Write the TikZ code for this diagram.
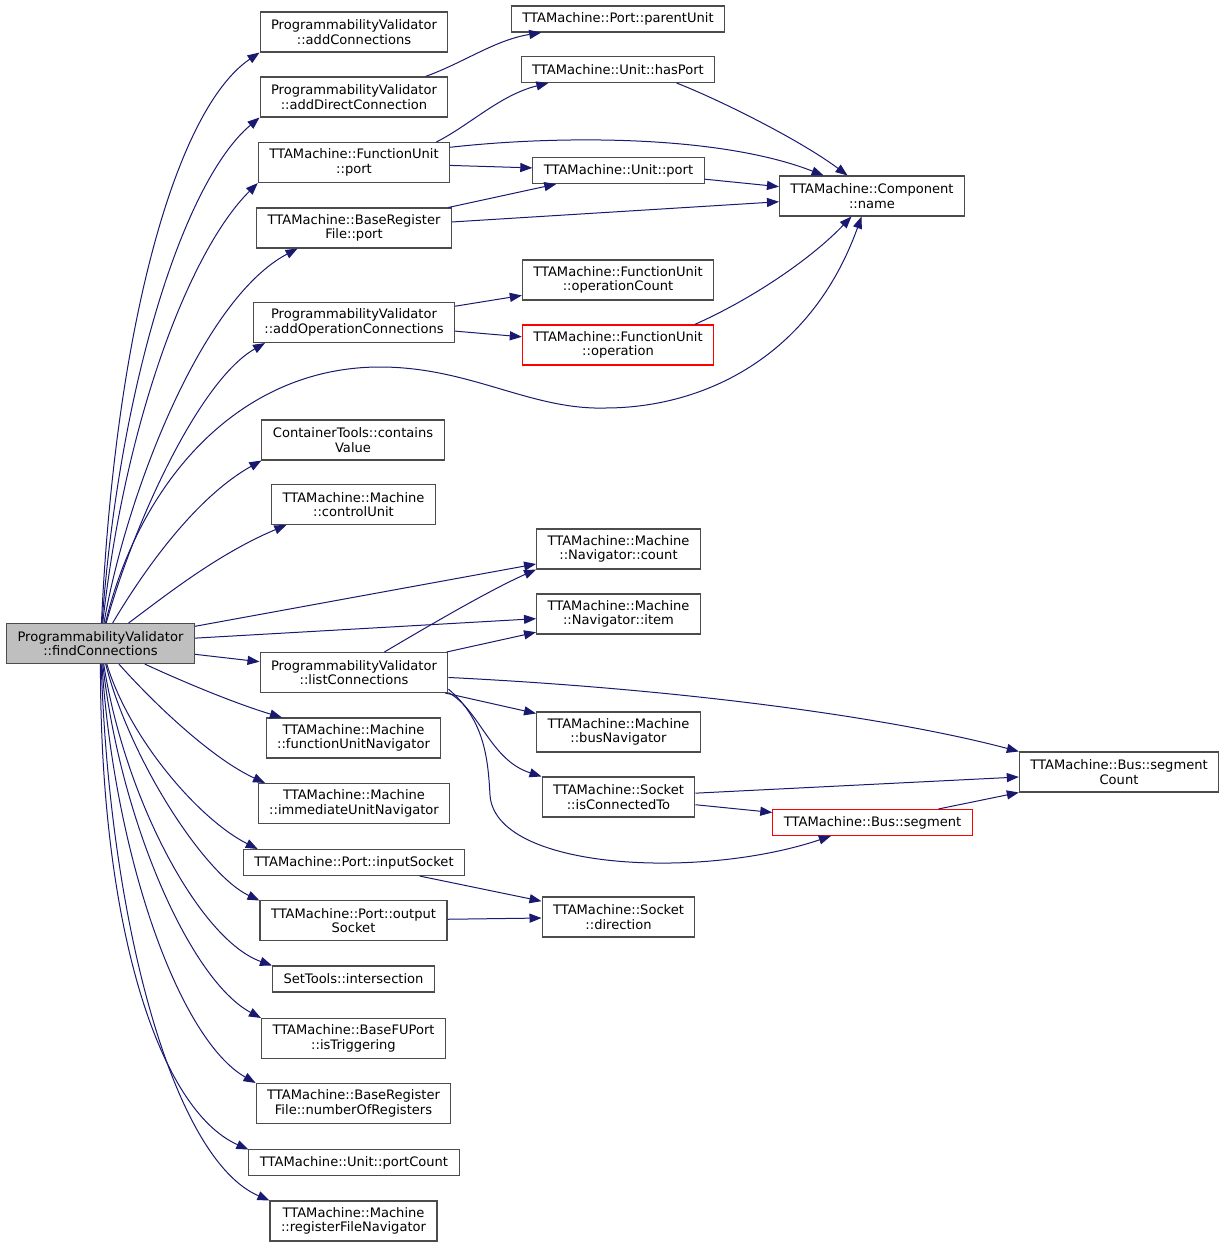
\documentclass[tikz,border=0pt]{standalone}
\usepackage{fontspec}
\newfontfamily\dejavu{DejaVu Sans}
\usetikzlibrary{arrows.meta}
\definecolor{midnight}{HTML}{191970}
\definecolor{rootgrey}{HTML}{BFBFBF}

\begin{document}
\begin{tikzpicture}[x=0.75pt, y=-0.75pt,
		fnbox/.style={draw=black!70, line width=0.8pt, fill=white, align=center, inner xsep=8.25pt, inner ysep=2pt, minimum height=30pt, font=\dejavu\fontsize{9.8}{10.75}\selectfont},
		fnboxone/.style={fnbox, minimum height=19.5pt},
		rootbox/.style={fnbox, fill=rootgrey},
		callline/.style={draw=midnight, line width=0.75pt, -{Triangle[length=9pt,width=6.8pt]}}]
		%%%%% START %%%%%
		
		\path[use as bounding box, fill=white] (0,0) rectangle (1224,1247);
		
		\node[rootbox] (find) at (100.5,643.5) {ProgrammabilityValidator\\::findConnections};
		
		\node[fnbox] (addc) at (354,32) {ProgrammabilityValidator\\::addConnections};
		\node[fnbox] (adddc) at (354,97) {ProgrammabilityValidator\\::addDirectConnection};
		\node[fnbox] (fuport) at (354,162.5) {TTAMachine::FunctionUnit\\::port};
		\node[fnbox] (rfport) at (354,228) {TTAMachine::BaseRegister\\File::port};
		\node[fnbox] (addoc) at (354,322.5) {ProgrammabilityValidator\\::addOperationConnections};
		\node[fnbox] (contains) at (353,440) {ContainerTools::contains\\Value};
		\node[fnbox] (ctrlunit) at (353.5,504.5) {TTAMachine::Machine\\::controlUnit};
		\node[fnbox] (listc) at (354,672.5) {ProgrammabilityValidator\\::listConnections};
		\node[fnbox] (funav) at (353.5,738) {TTAMachine::Machine\\::functionUnitNavigator};
		\node[fnbox] (imnav) at (354,803.5) {TTAMachine::Machine\\::immediateUnitNavigator};
		\node[fnboxone] (insock) at (354,862.5) {TTAMachine::Port::inputSocket};
		\node[fnbox] (outsock) at (353.5,920.5) {TTAMachine::Port::output\\Socket};
		\node[fnboxone] (inter) at (353.5,979) {SetTools::intersection};
		\node[fnbox] (trig) at (353.5,1038.5) {TTAMachine::BaseFUPort\\::isTriggering};
		\node[fnbox] (nregs) at (353.5,1103.5) {TTAMachine::BaseRegister\\File::numberOfRegisters};
		\node[fnboxone] (pcount) at (354,1162.5) {TTAMachine::Unit::portCount};
		\node[fnbox] (rfnav) at (353.5,1221) {TTAMachine::Machine\\::registerFileNavigator};
		
		\node[fnboxone] (parent) at (618,19) {TTAMachine::Port::parentUnit};
		\node[fnboxone] (hasport) at (618,69.5) {TTAMachine::Unit::hasPort};
		\node[fnboxone] (uport) at (618.5,170.5) {TTAMachine::Unit::port};
		\node[fnbox] (opcount) at (618,280) {TTAMachine::FunctionUnit\\::operationCount};
		\node[fnbox, draw=red] (oper) at (618,345) {TTAMachine::FunctionUnit\\::operation};
		\node[fnbox] (navcount) at (618.5,549) {TTAMachine::Machine\\::Navigator::count};
		\node[fnbox] (navitem) at (618.5,614) {TTAMachine::Machine\\::Navigator::item};
		\node[fnbox] (busnav) at (618.5,732) {TTAMachine::Machine\\::busNavigator};
		\node[fnbox] (isconn) at (618.5,797) {TTAMachine::Socket\\::isConnectedTo};
		\node[fnbox] (direction) at (618.5,917) {TTAMachine::Socket\\::direction};
		
		\node[fnbox] (cname) at (872,196) {TTAMachine::Component\\::name};
		\node[fnboxone, draw=red] (segment) at (872.5,822.5) {TTAMachine::Bus::segment};
		\node[fnbox] (segcount) at (1119,772) {TTAMachine::Bus::segment\\Count};
		
		% calls of findConnections
		\draw[callline] (find) .. controls (115,330) and (175,110) .. (addc.south west);
		\draw[callline] (find) .. controls (120,380) and (185,180) .. (adddc.south west);
		\draw[callline] (find) .. controls (125,420) and (190,250) .. (fuport.south west);
		\draw[callline] (find) .. controls (125,500) and (200,300) .. (rfport.200);
		\draw[callline] (find) .. controls (135,520) and (200,380) .. (addoc.193);
		\draw[callline] (find) .. controls (140,480) and (240,367) .. (380,367) .. controls (470,367) and (530,410) .. (605,408) .. controls (700,408) and (810,360) .. (cname.243);
		\draw[callline] (find) .. controls (150,560) and (200,495) .. (contains.south west);
		\draw[callline] (find) .. controls (160,600) and (215,555) .. (ctrlunit.197);
		\draw[callline] (find) -- (navcount);
		\draw[callline] (find) -- (navitem);
		\draw[callline] (find) -- (listc);
		\draw[callline] (find) .. controls (190,685) and (240,705) .. (funav.164);
		\draw[callline] (find) .. controls (160,710) and (215,760) .. (imnav.167);
		\draw[callline] (find) .. controls (130,740) and (200,820) .. (insock.172);
		\draw[callline] (find) .. controls (130,760) and (205,875) .. (outsock.168);
		\draw[callline] (find) .. controls (125,800) and (200,940) .. (inter.north west);
		\draw[callline] (find) .. controls (120,820) and (190,980) .. (trig.north west);
		\draw[callline] (find) .. controls (115,860) and (180,1040) .. (nregs.north west);
		\draw[callline] (find) .. controls (100,930) and (160,1110) .. (pcount.173);
		\draw[callline] (find) .. controls (110,930) and (175,1160) .. (rfnav.north west);
		
		% second level
		\draw[callline] (adddc.16) .. controls (465,62) and (495,40) .. (parent.190);
		\draw[callline] (fuport.14) .. controls (470,125) and (500,95) .. (hasport.191);
		\draw[callline] (fuport.9) .. controls (560,135) and (720,135) .. (cname.157);
		\draw[callline] (fuport) -- (uport);
		\draw[callline] (rfport) -- (uport);
		\draw[callline] (rfport) -- (cname);
		\draw[callline] (hasport.347) .. controls (720,100) and (800,140) .. (cname.140);
		\draw[callline] (uport) -- (cname);
		\draw[callline] (addoc) -- (opcount);
		\draw[callline] (addoc) -- (oper);
		\draw[callline] (oper.15) .. controls (750,300) and (810,260) .. (cname.225);
		\draw[callline] (listc.34) .. controls (430,625) and (490,590) .. (navcount.south west);
		\draw[callline] (listc) -- (navitem);
		\draw[callline] (listc.357) .. controls (700,690) and (900,720) .. (segcount.north west);
		\draw[callline] (listc) -- (busnav);
		\draw[callline] (listc.348) .. controls (480,710) and (490,760) .. (isconn.north west);
		\draw[callline] (listc.350) .. controls (485,720) and (488,760) .. (490,795) .. controls (495,870) and (700,880) .. (segment.198);
		\draw[callline] (isconn) -- (segcount);
		\draw[callline] (isconn) -- (segment);
		\draw[callline] (segment) -- (segcount);
		\draw[callline] (insock) -- (direction);
		\draw[callline] (outsock) -- (direction);
		
		%%%%% END %%%%%
	\end{tikzpicture}
\end{document}
